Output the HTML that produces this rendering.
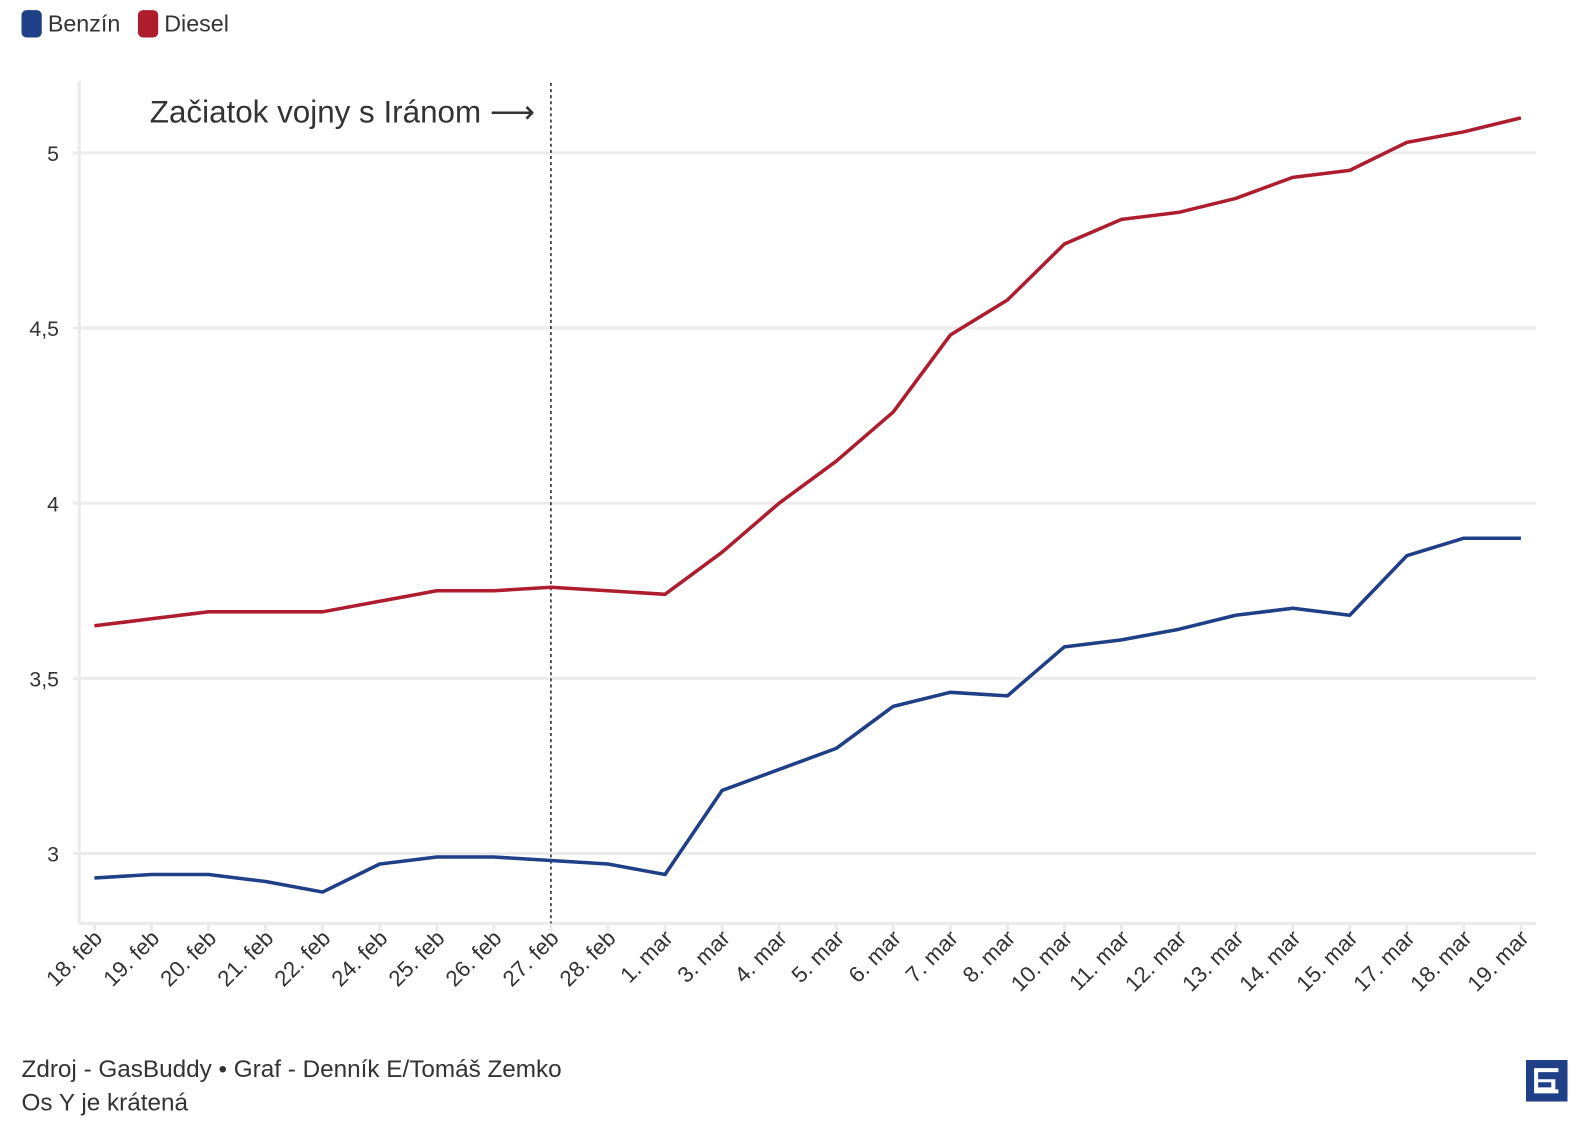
<!DOCTYPE html>
<html><head><meta charset="utf-8"><style>
html,body{margin:0;padding:0;background:#fff;}
svg{display:block;}
text{font-family:"Liberation Sans Narrow","Liberation Sans",sans-serif;fill:#333;}
</style></head><body>
<svg width="1588" height="1140" viewBox="0 0 1568 1126" xmlns="http://www.w3.org/2000/svg">
<rect x="21" y="10" width="20" height="27" rx="5" fill="#1f3f86"/>
<text x="47" y="31" font-size="23">Benzín</text>
<rect x="136" y="10" width="20" height="27" rx="5" fill="#ad1d2e"/>
<text x="162" y="31" font-size="23">Diesel</text>
<g stroke="#ebebeb" stroke-width="3">
<line x1="72" y1="151" x2="1517" y2="151"/>
<line x1="72" y1="324" x2="1517" y2="324"/>
<line x1="72" y1="497" x2="1517" y2="497"/>
<line x1="72" y1="670" x2="1517" y2="670"/>
<line x1="72" y1="843" x2="1517" y2="843"/>
<line x1="78" y1="80" x2="78" y2="912"/>
<line x1="78" y1="912" x2="1517" y2="912"/>
</g>
<g stroke="#ebebeb" stroke-width="3">
<line x1="93" y1="912" x2="93" y2="920"/><line x1="149.4" y1="912" x2="149.4" y2="920"/><line x1="205.7" y1="912" x2="205.7" y2="920"/><line x1="262.1" y1="912" x2="262.1" y2="920"/><line x1="318.4" y1="912" x2="318.4" y2="920"/><line x1="374.8" y1="912" x2="374.8" y2="920"/><line x1="431.2" y1="912" x2="431.2" y2="920"/><line x1="487.5" y1="912" x2="487.5" y2="920"/><line x1="543.9" y1="912" x2="543.9" y2="920"/><line x1="600.2" y1="912" x2="600.2" y2="920"/><line x1="656.6" y1="912" x2="656.6" y2="920"/><line x1="713" y1="912" x2="713" y2="920"/><line x1="769.3" y1="912" x2="769.3" y2="920"/><line x1="825.7" y1="912" x2="825.7" y2="920"/><line x1="882" y1="912" x2="882" y2="920"/><line x1="938.4" y1="912" x2="938.4" y2="920"/><line x1="994.8" y1="912" x2="994.8" y2="920"/><line x1="1051.1" y1="912" x2="1051.1" y2="920"/><line x1="1107.5" y1="912" x2="1107.5" y2="920"/><line x1="1163.8" y1="912" x2="1163.8" y2="920"/><line x1="1220.2" y1="912" x2="1220.2" y2="920"/><line x1="1276.6" y1="912" x2="1276.6" y2="920"/><line x1="1332.9" y1="912" x2="1332.9" y2="920"/><line x1="1389.3" y1="912" x2="1389.3" y2="920"/><line x1="1445.6" y1="912" x2="1445.6" y2="920"/><line x1="1502" y1="912" x2="1502" y2="920"/>
</g>
<g font-size="21" text-anchor="end">
<text x="58" y="159">5</text><text x="58" y="332">4,5</text><text x="58" y="505">4</text><text x="58" y="678">3,5</text><text x="58" y="851">3</text>
</g>
<g font-size="22" text-anchor="end">
<text transform="translate(102,928) rotate(-45)">18. feb</text>
<text transform="translate(158.4,928) rotate(-45)">19. feb</text>
<text transform="translate(214.7,928) rotate(-45)">20. feb</text>
<text transform="translate(271.1,928) rotate(-45)">21. feb</text>
<text transform="translate(327.4,928) rotate(-45)">22. feb</text>
<text transform="translate(383.8,928) rotate(-45)">24. feb</text>
<text transform="translate(440.2,928) rotate(-45)">25. feb</text>
<text transform="translate(496.5,928) rotate(-45)">26. feb</text>
<text transform="translate(552.9,928) rotate(-45)">27. feb</text>
<text transform="translate(609.2,928) rotate(-45)">28. feb</text>
<text transform="translate(665.6,928) rotate(-45)">1. mar</text>
<text transform="translate(722,928) rotate(-45)">3. mar</text>
<text transform="translate(778.3,928) rotate(-45)">4. mar</text>
<text transform="translate(834.7,928) rotate(-45)">5. mar</text>
<text transform="translate(891,928) rotate(-45)">6. mar</text>
<text transform="translate(947.4,928) rotate(-45)">7. mar</text>
<text transform="translate(1003.8,928) rotate(-45)">8. mar</text>
<text transform="translate(1060.1,928) rotate(-45)">10. mar</text>
<text transform="translate(1116.5,928) rotate(-45)">11. mar</text>
<text transform="translate(1172.8,928) rotate(-45)">12. mar</text>
<text transform="translate(1229.2,928) rotate(-45)">13. mar</text>
<text transform="translate(1285.6,928) rotate(-45)">14. mar</text>
<text transform="translate(1341.9,928) rotate(-45)">15. mar</text>
<text transform="translate(1398.3,928) rotate(-45)">17. mar</text>
<text transform="translate(1454.6,928) rotate(-45)">18. mar</text>
<text transform="translate(1511,928) rotate(-45)">19. mar</text>
</g>
<line x1="543.9" y1="82" x2="543.9" y2="912" stroke="#222" stroke-width="1.5" stroke-dasharray="3,3"/>
<text x="528" y="121" font-size="31" text-anchor="end">Začiatok vojny s Iránom ⟶</text>
<polyline fill="none" stroke="#ad1d2e" stroke-width="3.5" stroke-linejoin="round" points="93,618.1 149.4,611.2 205.7,604.3 262.1,604.3 318.4,604.3 374.8,593.9 431.2,583.5 487.5,583.5 543.9,580 600.2,583.5 656.6,587 713,545.4 769.3,497 825.7,455.5 882,407 938.4,330.9 994.8,296.3 1051.1,241 1107.5,216.7 1163.8,209.8 1220.2,196 1276.6,175.2 1332.9,168.3 1389.3,140.6 1445.6,130.2 1502,116.4"/>
<polyline fill="none" stroke="#1f3f86" stroke-width="3.5" stroke-linejoin="round" points="93,867.2 149.4,863.8 205.7,863.8 262.1,870.7 318.4,881.1 374.8,853.4 431.2,846.5 487.5,846.5 543.9,849.9 600.2,853.4 656.6,863.8 713,780.7 769.3,760 825.7,739.2 882,697.7 938.4,683.8 994.8,687.3 1051.1,638.9 1107.5,632 1163.8,621.6 1220.2,607.7 1276.6,600.8 1332.9,607.7 1389.3,548.9 1445.6,531.6 1502,531.6"/>
<text x="21" y="1064" font-size="24">Zdroj - GasBuddy • Graf - Denník E/Tomáš Zemko</text>
<text x="21" y="1097" font-size="24">Os Y je krátená</text>
<rect x="1507" y="1047" width="41" height="41" fill="#1f3f86"/>
<path d="M1515,1055 h24 v4 h-20 v7 h17 v11 h-17 v-3 h13 v-5 h-13 v7 h20 v4 h-24 z" fill="#fff"/>
</svg>
</body></html>
